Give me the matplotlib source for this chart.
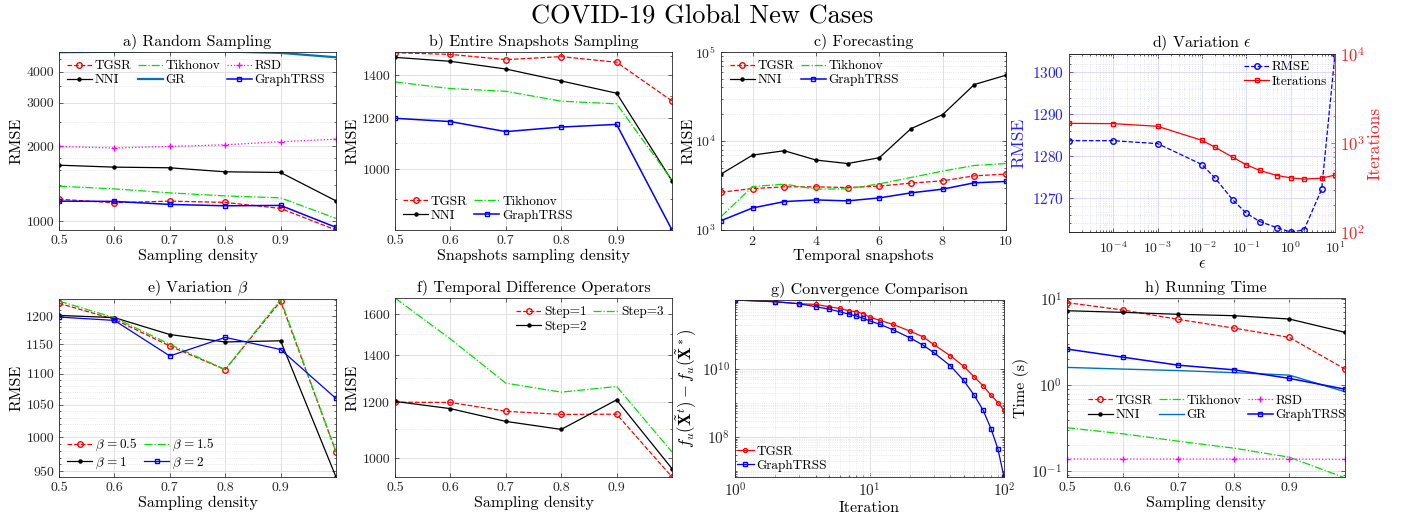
import matplotlib
matplotlib.use("Agg")
import matplotlib.pyplot as plt
from matplotlib.ticker import NullFormatter, NullLocator, LogLocator, MultipleLocator, FixedLocator

plt.rcParams.update({
    "font.family": "cmr10",
    "mathtext.fontset": "cm",
    "axes.formatter.use_mathtext": True,
    "font.size": 10,
})

# ---------------- data ----------------
density = [0.5, 0.6, 0.7, 0.8, 0.9, 1.0]
density_ticks = [0.5, 0.6, 0.7, 0.8, 0.9]
density_labels = ["0.5", "0.6", "0.7", "0.8", "0.9"]

# a) Random Sampling
a_tgsr = [1225, 1185, 1203, 1189, 1124, 920]
a_tikhonov = [1382, 1348, 1299, 1263, 1240, 1025]
a_rsd = [2000, 1970, 2000, 2030, 2090, 2140]
a_nni = [1680, 1650, 1640, 1580, 1570, 1206]
a_gr = [4800, 4820, 4870, 4830, 4770, 4580]
a_graphtrss = [1203, 1200, 1167, 1152, 1156, 943]
a_yticks = [1000, 2000, 3000, 4000]

# b) Entire Snapshots Sampling
b_tgsr = [1518, 1509, 1481, 1497, 1467, 1277]
b_tikhonov = [1367, 1335, 1322, 1276, 1264, 961]
b_nni = [1493, 1472, 1432, 1372, 1313, 959]
b_graphtrss = [1200, 1186, 1144, 1163, 1174, 804]
b_yticks = [1000, 1200, 1400]

# c) Forecasting
snapshots = [1, 2, 3, 4, 5, 6, 7, 8, 9, 10]
c_tgsr = [2660, 2920, 3055, 3055, 3000, 3110, 3365, 3570, 4060, 4250]
c_tikhonov = [1412, 3077, 3275, 2877, 2900, 3300, 3890, 4590, 5310, 5580]
c_nni = [4250, 6950, 7770, 6110, 5580, 6490, 13770, 19800, 43100, 54900]
c_graphtrss = [1273, 1770, 2085, 2178, 2124, 2295, 2614, 2877, 3390, 3510]

# d) Variation epsilon
eps = [1e-5, 1e-4, 1e-3, 1e-2, 2e-2, 5e-2, 1e-1, 2e-1, 5e-1, 1, 2, 5, 10]
d_rmse = [1283.7, 1283.7, 1283.0, 1278.0, 1274.7, 1269.5, 1266.4, 1264.4,
          1262.9, 1261.9, 1262.4, 1272.1, 1304.4]
d_iter = [1663, 1650, 1540, 1070, 892, 689, 570, 491, 431, 406, 393, 403, 436]

# e) Variation beta
e_b05 = [1223, 1194, 1147, 1107, 1227, 978]
e_b15 = [1227, 1197, 1150, 1107, 1230, 978]
e_b1 = [1201, 1197, 1167, 1154, 1156, 942]
e_b2 = [1198, 1192, 1130, 1162, 1141, 1060]
e_yticks = [950, 1000, 1050, 1100, 1150, 1200]

# f) Temporal Difference Operators
f_step1 = [1200, 1199, 1165, 1153, 1154, 940]
f_step2 = [1203, 1175, 1127, 1098, 1209, 966]
f_step3 = [1686, 1475, 1277, 1240, 1263, 1020]
f_yticks = [1000, 1200, 1400, 1600]

# g) Convergence Comparison
g_iter = [1, 2, 3, 4, 5, 6, 7, 8, 9, 10, 12, 15, 20, 25, 30, 40, 50, 60, 70, 80, 90, 100]
g_tgsr = [1.10e12, 9.77e11, 8.53e11, 8.15e11, 6.95e11, 6.21e11, 5.30e11, 4.95e11,
          4.32e11, 3.44e11, 2.74e11, 2.09e11, 1.33e11, 9.03e10, 5.36e10, 2.48e10,
          1.23e10, 5.93e9, 3.22e9, 1.71e9, 1.04e9, 6.14e8]
g_graphtrss = [1.10e12, 9.77e11, 8.53e11, 6.95e11, 5.93e11, 4.95e11, 4.22e11, 3.69e11,
               3.15e11, 2.68e11, 2.09e11, 1.45e11, 8.43e10, 5.12e10, 3.11e10, 1.25e10,
               4.73e9, 1.71e9, 6.14e8, 1.76e8, 4.52e7, 6.58e6]

# h) Running Time
h_tgsr = [9.1, 7.48, 5.82, 4.61, 3.59, 1.54]
h_tikhonov = [0.321, 0.273, 0.224, 0.186, 0.146, 0.084]
h_rsd = [0.139, 0.139, 0.139, 0.139, 0.139, 0.138]
h_nni = [7.33, 7.02, 6.66, 6.42, 5.87, 4.11]
h_gr = [1.61, 1.54, 1.48, 1.40, 1.31, 0.84]
h_graphtrss = [2.63, 2.12, 1.71, 1.51, 1.20, 0.90]

# ---------------- styles ----------------
RED, GREEN, MAG, BLK, GRC, BLU = "#ff0000", "#00e000", "#ff00ff", "#000000", "#0072bd", "#0000ff"
ST = {
    "TGSR": dict(color=RED, ls="--", marker="o", mfc="none", ms=4, lw=0.9),
    "Tikhonov": dict(color=GREEN, ls="-.", lw=0.9),
    "RSD": dict(color=MAG, ls=":", marker="+", ms=4, lw=0.9),
    "NNI": dict(color=BLK, ls="-", marker="o", ms=2.2, lw=0.9),
    "GR": dict(color=GRC, ls="-", lw=1.6),
    "GraphTRSS": dict(color=BLU, ls="-", marker="s", mfc="none", ms=3.5, lw=1.1),
}
TXT = "#262626"
W, H = 1404, 521
fig = plt.figure(figsize=(W / 100, H / 100), dpi=100)


def axes_px(x0, x1, y0, y1):
    return fig.add_axes([x0 / W, 1 - y1 / H, (x1 - x0) / W, (y1 - y0) / H])


def style(ax, gridc="#dcdcdc", minorc="#e2e2e2"):
    ax.tick_params(which="both", direction="in", top=True, right=True,
                   labelsize=10, colors=TXT, length=3, width=0.5)
    ax.tick_params(which="minor", length=1.6)
    ax.grid(True, which="major", color=gridc, lw=0.6, ls="-")
    ax.grid(True, which="minor", color=minorc, lw=0.6, ls=":")
    for s in ax.spines.values():
        s.set_color(TXT)
        s.set_linewidth(0.6)
    ax.set_axisbelow(True)


def density_x(ax, label="Sampling density"):
    ax.set_xlim(0.5, 1.0)
    ax.set_xticks(density_ticks, density_labels)
    ax.xaxis.set_minor_locator(NullLocator())
    ax.set_xlabel(label, fontsize=11.5, labelpad=1)


def leg(ax, **kw):
    base = dict(frameon=False, fontsize=9.5, handlelength=1.9, handletextpad=0.2,
                columnspacing=0.5, labelspacing=0.15, borderaxespad=0, borderpad=0)
    base.update(kw)
    return ax.legend(**base)


TFS = 11.5

# ---------------- a ----------------
ax = axes_px(59, 336, 52, 230)
ax.set_yscale("log")
ax.plot(density, a_tgsr, label="TGSR", **ST["TGSR"])
ax.plot(density, a_nni, label="NNI", **ST["NNI"])
ax.plot(density, a_tikhonov, label="Tikhonov", **ST["Tikhonov"])
ax.plot(density, a_gr, label="GR", **ST["GR"])
ax.plot(density, a_rsd, label="RSD", **ST["RSD"])
ax.plot(density, a_graphtrss, label="GraphTRSS", **ST["GraphTRSS"])
ax.set_ylim(920, 4810)
ax.set_yticks(a_yticks, [str(v) for v in a_yticks])
ax.yaxis.set_minor_locator(FixedLocator([1200, 1400, 1600, 1800, 2500, 3500, 4500]))
ax.yaxis.set_minor_formatter(NullFormatter())
density_x(ax)
ax.set_ylabel("RMSE", fontsize=11.5, labelpad=2)
ax.set_title("a) Random Sampling", fontsize=TFS, pad=5)
style(ax)
leg(ax, ncol=3, loc="upper left", bbox_to_anchor=(0.028, 0.955))

# ---------------- b ----------------
ax = axes_px(395, 672, 52, 230)
ax.set_yscale("log")
ax.plot(density, b_tgsr, label="TGSR", **ST["TGSR"])
ax.plot(density, b_nni, label="NNI", **ST["NNI"])
ax.plot(density, b_tikhonov, label="Tikhonov", **ST["Tikhonov"])
ax.plot(density, b_graphtrss, label="GraphTRSS", **ST["GraphTRSS"])
ax.set_ylim(804, 1522)
ax.set_yticks(b_yticks, [str(v) for v in b_yticks])
ax.yaxis.set_minor_locator(FixedLocator([900, 1100, 1300, 1500]))
ax.yaxis.set_minor_formatter(NullFormatter())
density_x(ax, "Snapshots sampling density")
ax.set_ylabel("RMSE", fontsize=11.5, labelpad=2)
ax.set_title("b) Entire Snapshots Sampling", fontsize=TFS, pad=5)
style(ax)
leg(ax, ncol=2, loc="lower left", bbox_to_anchor=(0.03, 0.045))

# ---------------- c ----------------
ax = axes_px(721, 1006, 52, 230)
ax.set_yscale("log")
ax.plot(snapshots, c_tgsr, label="TGSR", **ST["TGSR"])
ax.plot(snapshots, c_nni, label="NNI", **ST["NNI"])
ax.plot(snapshots, c_tikhonov, label="Tikhonov", **ST["Tikhonov"])
ax.plot(snapshots, c_graphtrss, label="GraphTRSS", **ST["GraphTRSS"])
ax.set_xlim(1, 10)
ax.set_xticks([2, 4, 6, 8, 10])
ax.xaxis.set_minor_locator(NullLocator())
ax.set_ylim(1e3, 1e5)
ax.yaxis.set_major_locator(LogLocator(base=10, numticks=5))
ax.yaxis.set_minor_locator(LogLocator(base=10, subs=range(2, 10), numticks=20))
ax.yaxis.set_minor_formatter(NullFormatter())
ax.set_xlabel("Temporal snapshots", fontsize=11.5, labelpad=1)
ax.set_ylabel("RMSE", fontsize=11.5, labelpad=0)
ax.set_title("c) Forecasting", fontsize=TFS, pad=5)
style(ax)
leg(ax, ncol=2, loc="upper left", bbox_to_anchor=(0.03, 0.955))

# ---------------- d ----------------
ax = axes_px(1069, 1335, 54, 232)
ax2 = ax.twinx()
l1, = ax.plot(eps, d_rmse, color=BLU, ls="--", marker="o", mfc="none", ms=4, lw=0.9, label="RMSE")
l2, = ax2.plot(eps, d_iter, color=RED, ls="-", marker="s", mfc="none", ms=3.5, lw=0.9, label="Iterations")
ax.set_xscale("log")
ax.set_xlim(1e-5, 10)
ax.set_xticks([1e-4, 1e-3, 1e-2, 1e-1, 1e0, 1e1])
ax.xaxis.set_minor_locator(LogLocator(base=10, subs=range(2, 10), numticks=20))
ax.xaxis.set_minor_formatter(NullFormatter())
ax.set_ylim(1261.9, 1304.4)
ax.set_yticks([1270, 1280, 1290, 1300])
ax.yaxis.set_minor_locator(MultipleLocator(2))
ax2.set_yscale("log")
ax2.set_ylim(100, 1e4)
ax2.yaxis.set_major_locator(LogLocator(base=10, numticks=5))
ax2.yaxis.set_minor_locator(LogLocator(base=10, subs=range(2, 10), numticks=20))
ax2.yaxis.set_minor_formatter(NullFormatter())
style(ax, gridc="#d6d6f6", minorc="#dcdcf8")
ax.tick_params(which="both", right=False)
ax.tick_params(axis="y", colors="#2020ff", labelsize=11)
ax.tick_params(axis="x", pad=6)
ax.spines["left"].set_color("#3030ff")
ax2.tick_params(which="both", direction="in", labelsize=12, colors="#ff2020", length=3, width=0.5)
ax2.tick_params(which="minor", length=1.6)
for s in ax2.spines.values():
    s.set_linewidth(0.6)
    s.set_color(TXT)
ax2.spines["right"].set_color("#ff3030")
ax2.spines["left"].set_color("#3030ff")
ax.set_xlabel(r"$\epsilon$", fontsize=11.5, labelpad=1)
ax.set_ylabel("RMSE", fontsize=12.5, color="#2020ff", labelpad=4)
ax2.set_ylabel("Iterations", fontsize=12.5, color="#ff2020", labelpad=2)
ax.set_title(r"d) Variation $\epsilon$", fontsize=TFS, pad=5)
leg(ax2, handles=[l1, l2], loc="upper right", bbox_to_anchor=(0.97, 0.96))

# ---------------- e ----------------
ax = axes_px(59, 336, 299, 477)
ax.set_yscale("log")
ax.plot(density, e_b05, label=r"$\beta\,= 0.5$", **ST["TGSR"])
ax.plot(density, e_b1, label=r"$\beta\,= 1$", **ST["NNI"])
ax.plot(density, e_b15, label=r"$\beta\,= 1.5$", **ST["Tikhonov"])
ax.plot(density, e_b2, label=r"$\beta\,= 2$", color=BLU, ls="-", marker="s", mfc="none", ms=3.5, lw=0.9)
ax.set_ylim(942, 1231)
ax.set_yticks(e_yticks, [str(v) for v in e_yticks])
ax.yaxis.set_minor_locator(MultipleLocator(10))
ax.yaxis.set_minor_formatter(NullFormatter())
density_x(ax)
ax.set_ylabel("RMSE", fontsize=11.5, labelpad=2)
ax.set_title(r"e) Variation $\beta$", fontsize=TFS, pad=5)
style(ax)
leg(ax, ncol=2, loc="lower left", bbox_to_anchor=(0.03, 0.035))

# ---------------- f ----------------
ax = axes_px(395, 672, 298, 477)
ax.set_yscale("log")
ax.plot(density, f_step1, label="Step=1", **ST["TGSR"])
ax.plot(density, f_step2, label="Step=2", **ST["NNI"])
ax.plot(density, f_step3, label="Step=3", **ST["Tikhonov"])
ax.set_ylim(940, 1686)
ax.set_yticks(f_yticks, [str(v) for v in f_yticks])
ax.yaxis.set_minor_locator(FixedLocator([1100, 1300, 1500]))
ax.yaxis.set_minor_formatter(NullFormatter())
density_x(ax)
ax.set_ylabel("RMSE", fontsize=11.5, labelpad=2)
ax.set_title("f) Temporal Difference Operators", fontsize=TFS, pad=5)
style(ax)
leg(ax, ncol=2, loc="upper right", bbox_to_anchor=(0.97, 0.955))

# ---------------- g ----------------
ax = axes_px(735, 1004, 300, 477)
ax.set_xscale("log")
ax.set_yscale("log")
ax.plot(g_iter, g_tgsr, color=RED, ls="-", marker="o", mfc="none", ms=2.8, lw=0.9, label="TGSR")
ax.plot(g_iter, g_graphtrss, color=BLU, ls="-", marker="s", mfc="none", ms=2.6, lw=0.9, label="GraphTRSS")
ax.set_xlim(1, 100)
ax.set_ylim(6.6e6, 1.1e12)
ax.set_xticks([1, 10, 100])
ax.xaxis.set_minor_locator(LogLocator(base=10, subs=range(2, 10), numticks=20))
ax.xaxis.set_minor_formatter(NullFormatter())
ax.set_yticks([1e8, 1e10])
ax.yaxis.set_minor_locator(LogLocator(base=10, subs=range(1, 10), numticks=20))
ax.yaxis.set_minor_formatter(NullFormatter())
ax.set_xlabel("Iteration", fontsize=11.5, labelpad=1)
ax.set_ylabel(r"$f_u(\tilde{\mathbf{X}}^t) - f_u(\tilde{\mathbf{X}}^*)$", fontsize=12, labelpad=2)
ax.set_title("g) Convergence Comparison", fontsize=TFS, pad=5)
style(ax)
ax.tick_params(axis="both", labelsize=11)
leg(ax, loc="lower left", bbox_to_anchor=(0.006, 0.028), handlelength=1.3)

# ---------------- h ----------------
ax = axes_px(1067, 1345, 298, 477)
ax.set_yscale("log")
ax.plot(density, h_tgsr, label="TGSR", **ST["TGSR"])
ax.plot(density, h_nni, label="NNI", **ST["NNI"])
ax.plot(density, h_tikhonov, label="Tikhonov", **ST["Tikhonov"])
ax.plot(density, h_gr, label="GR", color=GRC, ls="-", lw=1.0)
ax.plot(density, h_rsd, label="RSD", **ST["RSD"])
ax.plot(density, h_graphtrss, label="GraphTRSS", **ST["GraphTRSS"])
ax.set_ylim(0.086, 10.3)
ax.yaxis.set_major_locator(LogLocator(base=10, numticks=5))
ax.yaxis.set_minor_locator(LogLocator(base=10, subs=range(2, 10), numticks=20))
ax.yaxis.set_minor_formatter(NullFormatter())
density_x(ax)
ax.set_ylabel("Time (s)", fontsize=11.5, labelpad=2)
ax.set_title("h) Running Time", fontsize=TFS, pad=5)
style(ax)
ax.tick_params(axis="y", labelsize=11)
leg(ax, ncol=3, loc="center left", bbox_to_anchor=(0.075, 0.385))

fig.text(0.5, 1 - 17 / H, "COVID-19 Global New Cases", ha="center", va="center", fontsize=19)

fig.savefig("out.png", dpi=100)
